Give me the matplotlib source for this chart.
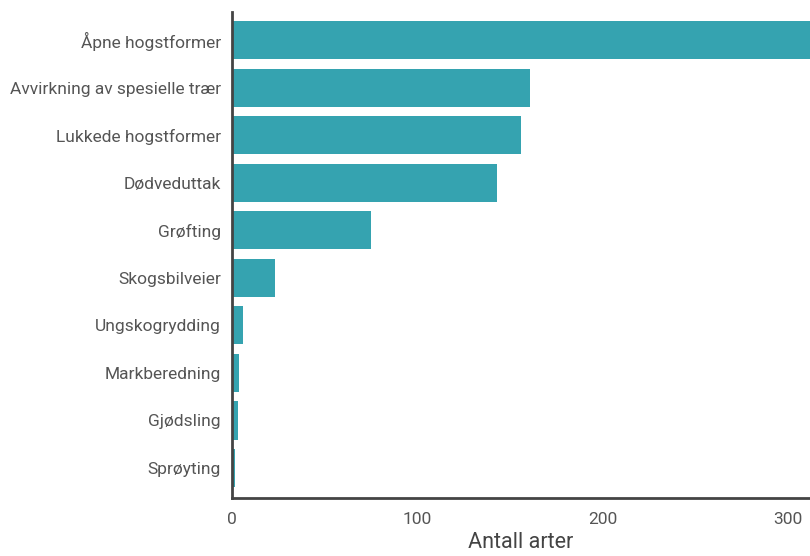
import matplotlib.pyplot as plt

categories = ["Åpne hogstformer", "Avvirkning av spesielle trær", "Lukkede hogstformer",
              "Dødveduttak", "Grøfting", "Skogsbilveier", "Ungskogrydding",
              "Markberedning", "Gjødsling", "Sprøyting"]
antall = [320, 161, 156, 143, 75, 23, 6, 4, 3, 1.5]

plt.rcParams['font.family'] = ['Roboto', 'DejaVu Sans']

fig = plt.figure(figsize=(8.1, 5.56), dpi=100)
ax = fig.add_axes([0.2864, 0.1043, 0.7136, 0.8741])

ypos = list(range(len(categories)))
ax.barh(ypos, antall, height=0.8, color="#35a3b0")
ax.set_yticks(ypos)
ax.set_yticklabels(categories)
ax.set_ylim(9.63, -0.59)
ax.set_xlim(0, 312)
ax.set_xticks([0, 100, 200, 300])

for s in ["top", "right"]:
    ax.spines[s].set_visible(False)
for s in ["left", "bottom"]:
    ax.spines[s].set_color("#444444")
    ax.spines[s].set_linewidth(2)

ax.tick_params(axis="y", length=0, labelsize=12.5, colors="#555555", pad=8)
ax.tick_params(axis="x", length=0, labelsize=12.5, colors="#555555", pad=10)
ax.set_xlabel("Antall arter", fontsize=15.5, color="#444444", labelpad=4)

fig.savefig("out.png", dpi=100)
